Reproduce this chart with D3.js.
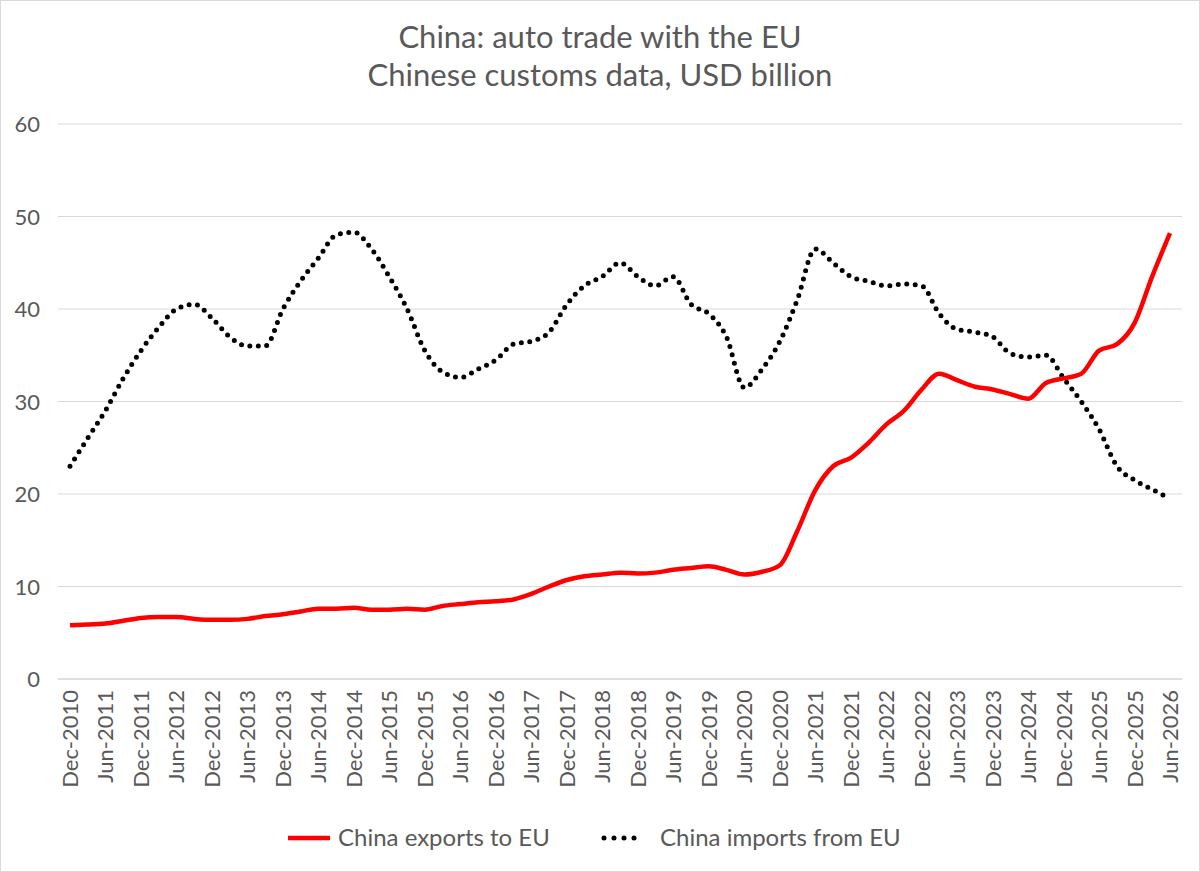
<!DOCTYPE html>
<html><head><meta charset="utf-8">
<script src="https://cdn.jsdelivr.net/npm/d3@7"></script>
<style>body{margin:0;background:#fff}svg{font-family:Lato,"Liberation Sans",sans-serif}</style>
</head><body>
<svg id="c" width="1200" height="872"></svg>
<script>
const quarters = d3.range(63).map(i => new Date(2010, 11 + i * 3, 1));
const exportsEU = [5.8,5.9,6.0,6.3,6.6,6.7,6.7,6.5,6.4,6.4,6.5,6.8,7.0,7.3,7.6,7.6,7.7,7.5,7.5,7.6,7.5,7.9,8.1,8.3,8.4,8.6,9.2,10.0,10.7,11.1,11.3,11.5,11.4,11.5,11.8,12.0,12.2,11.8,11.3,11.6,12.3,16.0,20.4,23.0,23.9,25.5,27.5,29.0,31.3,33.0,32.3,31.6,31.3,30.8,30.3,32.0,32.5,33.0,35.5,36.2,38.5,43.5,48.2];
const importsEU = [23,26,29,32.5,35.5,38,40,40.5,39,37,36,36,40,43,45.5,48,48.3,46.5,43.5,40,35.5,33.2,32.6,33.5,34.5,36.2,36.5,37.5,40.5,42.5,43.5,45,43.5,42.5,43.5,40.5,39.5,37,31.5,33.5,36.5,41,46.5,45,43.5,43,42.5,42.7,42.5,39.5,37.8,37.5,37,35.2,34.8,35,32.5,30,27,23,21.5,20.5,19.5];
const yTicks = [0,10,20,30,40,50,60];
const seriesNames = ["China exports to EU","China imports from EU"];
const titleLines = ["China: auto trade with the EU","Chinese customs data, USD billion"];

const svg = d3.select("#c");
svg.append("rect").attr("x",0.5).attr("y",0.5).attr("width",1199).attr("height",871).attr("fill","#fff").attr("stroke","#d9d9d9");
const x = d3.scaleTime().domain([new Date(2010,11,1), new Date(2026,5,1)]).range([70,1170]);
const y = d3.scaleLinear().domain([0,60]).range([679,124]);

svg.selectAll(".g").data(yTicks).join("line").attr("x1",58).attr("x2",1182)
  .attr("y1",d=>y(d)).attr("y2",d=>y(d)).attr("stroke",d=>d===0?"#bfbfbf":"#d9d9d9");
svg.selectAll(".yl").data(yTicks).join("text").attr("x",40).attr("y",d=>y(d)+8)
  .attr("text-anchor","end").attr("font-size",22).attr("fill","#595959").text(d=>d);

const xt = d3.range(32).map(i => new Date(2010, 11 + i*6, 1));
const fmt = d3.timeFormat("%b-%Y");
svg.selectAll(".xl").data(xt).join("text")
  .attr("transform",d=>`translate(${x(d)+8},690) rotate(-90)`)
  .attr("text-anchor","end").attr("font-size",22).attr("fill","#595959").text(d=>fmt(d));

svg.selectAll(".t").data(titleLines).join("text").attr("x",600).attr("y",(d,i)=>48+i*38)
  .attr("text-anchor","middle").attr("font-size",31).attr("fill","#595959").text(d=>d);

const line = d3.line().x((d,i)=>x(quarters[i])).y(d=>y(d)).curve(d3.curveMonotoneX);
svg.append("path").attr("d",line(importsEU)).attr("fill","none").attr("stroke","#000")
  .attr("stroke-width",5).attr("stroke-linecap","round").attr("stroke-dasharray","0 8.5");
svg.append("path").attr("d",line(exportsEU)).attr("fill","none").attr("stroke","#ff0000")
  .attr("stroke-width",4.5).attr("stroke-linejoin","round");

svg.append("line").attr("x1",288).attr("x2",330).attr("y1",838).attr("y2",838).attr("stroke","#ff0000").attr("stroke-width",4.5);
svg.append("text").attr("x",338).attr("y",846).attr("font-size",24).attr("fill","#595959").text(seriesNames[0]);
svg.append("line").attr("x1",604).attr("x2",644).attr("y1",838).attr("y2",838).attr("stroke","#000")
  .attr("stroke-width",5).attr("stroke-linecap","round").attr("stroke-dasharray","0 10");
svg.append("text").attr("x",660).attr("y",846).attr("font-size",24).attr("fill","#595959").text(seriesNames[1]);
</script>
</body></html>
